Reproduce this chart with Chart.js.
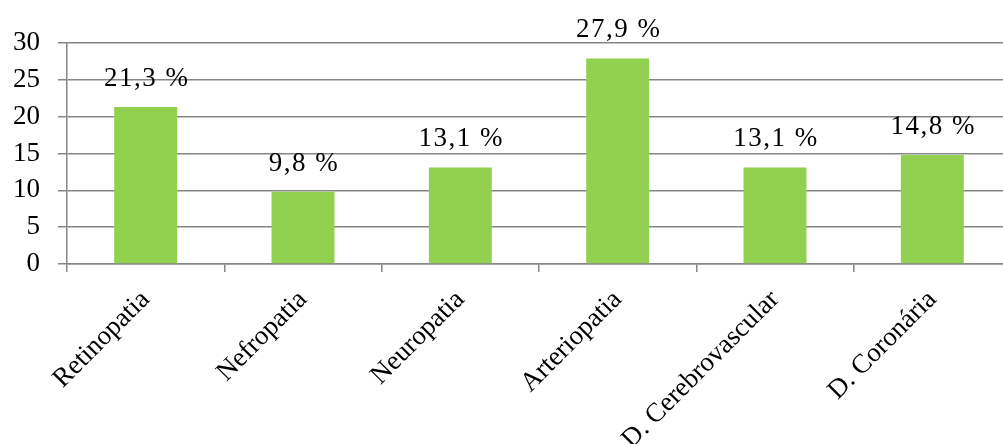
<!DOCTYPE html>
<html>
<head>
<meta charset="utf-8">
<script src="https://cdn.jsdelivr.net/npm/chart.js@4/dist/chart.umd.min.js"></script>
<style>
  html, body { margin: 0; padding: 0; background: #fff; overflow: hidden; }
  #wrap { position: relative; width: 1014px; height: 444px; }
</style>
</head>
<body>
<div id="wrap"><canvas id="grafico"></canvas></div>
<script>
// Dados do gráfico
const categorias = ['Retinopatia', 'Nefropatia', 'Neuropatia', 'Arteriopatia', 'D. Cerebrovascular', 'D. Coronária'];
const valores = [21.3, 9.8, 13.1, 27.9, 13.1, 14.8];
const rotulos = ['21,3 %', '9,8 %', '13,1 %', '27,9 %', '13,1 %', '14,8 %'];
const ticksY = [0, 5, 10, 15, 20, 25, 30];

const fonte = '"Liberation Serif", "DejaVu Serif", serif';
const cinza = '#868686';

// rótulos em cima das barras
const rotulosBarras = {
    id: 'rotulosBarras',
    afterDatasetsDraw(chart) {
        const ctx = chart.ctx;
        const meta = chart.getDatasetMeta(0);
        ctx.save();
        ctx.font = '27px ' + fonte;
        ctx.letterSpacing = '1.5px';
        ctx.fillStyle = '#000';
        ctx.textAlign = 'center';
        ctx.textBaseline = 'alphabetic';
        meta.data.forEach((bar, i) => {
            ctx.fillText(rotulos[i], bar.x + 1, bar.y - 21);
        });
        ctx.restore();
    }
};

new Chart(document.getElementById('grafico'), {
    type: 'bar',
    data: {
        labels: categorias,
        datasets: [{
            data: valores,
            backgroundColor: '#92D050',
            borderWidth: 0,
            barPercentage: 0.4,
            categoryPercentage: 1
        }]
    },
    options: {
        responsive: true,
        maintainAspectRatio: false,
        animation: false,
        layout: { padding: { top: 43, right: 3, left: 0, bottom: 0 } },
        plugins: { legend: { display: false }, tooltip: { enabled: false } },
        scales: {
            x: {
                grid: { display: true, drawOnChartArea: false, drawTicks: true, tickLength: 8, color: cinza, lineWidth: 1.5, offset: true },
                border: { color: cinza, width: 1.5 },
                ticks: {
                    color: '#000',
                    font: { family: fonte, size: 27 },
                    minRotation: 45,
                    maxRotation: 45,
                    autoSkip: false,
                    padding: 12
                },
                afterFit: (s) => { s.height = 180; }
            },
            y: {
                min: 0,
                max: 30,
                afterBuildTicks: (s) => { s.ticks = ticksY.map(v => ({ value: v })); },
                grid: { color: cinza, lineWidth: 1.5, tickLength: 9 },
                border: { color: cinza, width: 1.5 },
                ticks: {
                    color: '#000',
                    font: { family: fonte, size: 27 },
                    padding: 18
                },
                afterFit: (s) => { s.width = 67; }
            }
        }
    },
    plugins: [rotulosBarras]
});
</script>
</body>
</html>
